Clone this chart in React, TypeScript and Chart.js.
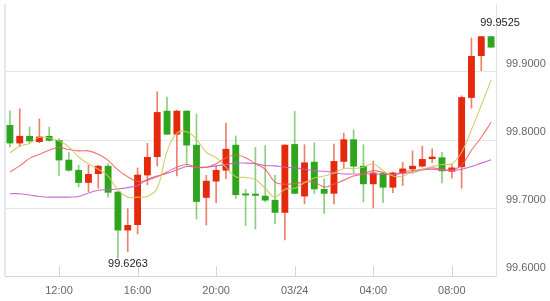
import React, { useEffect, useRef } from "react";
import { Chart, registerables } from "chart.js";

Chart.register(...registerables);

const TIMES = [
  "09:30", "10:00", "10:30", "11:00", "11:30", "12:00", "12:30", "13:00", "13:30", "14:00",
  "14:30", "15:00", "15:30", "16:00", "16:30", "17:00", "17:30", "18:00", "18:30", "19:00",
  "19:30", "20:00", "20:30", "21:00", "21:30", "22:00", "22:30", "23:00", "23:30", "03/24",
  "00:30", "01:00", "01:30", "02:00", "02:30", "03:00", "03:30", "04:00", "04:30", "05:00",
  "05:30", "06:00", "06:30", "07:00", "07:30", "08:00", "08:30", "09:00", "09:30", "10:00",
];

const X_TICKS = ["12:00", "16:00", "20:00", "03/24", "04:00", "08:00"];

const OPEN = [
  99.822, 99.795, 99.806, 99.797, 99.806, 99.8, 99.771, 99.756, 99.737, 99.75,
  99.762, 99.724, 99.667, 99.675, 99.748, 99.775, 99.843, 99.808, 99.843, 99.793,
  99.715, 99.739, 99.755, 99.793, 99.7213, 99.721, 99.718, 99.712, 99.693, 99.794,
  99.717, 99.768, 99.728, 99.721, 99.768, 99.801, 99.762, 99.735, 99.751, 99.73,
  99.751, 99.757, 99.761, 99.772, 99.7745, 99.7535, 99.76, 99.862, 99.9235, 99.9525,
];
const HIGH = [
  99.843, 99.846, 99.819, 99.831, 99.819, 99.802, 99.782, 99.763, 99.763, 99.763,
  99.765, 99.724, 99.699, 99.759, 99.795, 99.871, 99.863, 99.844, 99.843, 99.838,
  99.748, 99.762, 99.825, 99.806, 99.7275, 99.789, 99.792, 99.748, 99.793, 99.842,
  99.793, 99.796, 99.743, 99.794, 99.81, 99.815, 99.793, 99.769, 99.753, 99.753,
  99.767, 99.784, 99.791, 99.787, 99.782, 99.764, 99.865, 99.95, 99.9525, 99.9525,
];
const LOW = [
  99.79, 99.79, 99.796, 99.796, 99.798, 99.748, 99.754, 99.731, 99.724, 99.729,
  99.716, 99.6263, 99.636, 99.662, 99.734, 99.762, 99.808, 99.747, 99.763, 99.684,
  99.675, 99.708, 99.743, 99.714, 99.674, 99.669, 99.709, 99.677, 99.653, 99.721,
  99.706, 99.721, 99.692, 99.706, 99.758, 99.752, 99.709, 99.7, 99.708, 99.7225,
  99.733, 99.751, 99.76, 99.767, 99.737, 99.744, 99.729, 99.847, 99.902, 99.936,
];
const CLOSE = [
  99.795, 99.806, 99.798, 99.805, 99.799, 99.77, 99.755, 99.737, 99.75, 99.762,
  99.7225, 99.667, 99.675, 99.749, 99.775, 99.841, 99.808, 99.843, 99.792, 99.709,
  99.74, 99.756, 99.787, 99.719, 99.7185, 99.718, 99.711, 99.693, 99.793, 99.721,
  99.767, 99.7275, 99.721, 99.769, 99.801, 99.761, 99.735, 99.752, 99.73, 99.752,
  99.758, 99.762, 99.772, 99.7755, 99.754, 99.7595, 99.863, 99.9235, 99.9525, 99.936,
];

const MA_YELLOW = [
  99.781, 99.791, 99.795, 99.804, 99.803, 99.799, 99.79, 99.775, 99.765, 99.757,
  99.747, 99.7265, 99.716, 99.716, 99.717, 99.729, 99.783, 99.81, 99.812, 99.801,
  99.782, 99.774, 99.76, 99.746, 99.745, 99.742, 99.729, 99.716, 99.7275, 99.729,
  99.737, 99.744, 99.747, 99.751, 99.758, 99.758, 99.76, 99.765, 99.755, 99.747,
  99.747, 99.753, 99.757, 99.761, 99.764, 99.765, 99.782, 99.815, 99.851, 99.888,
];
const MA_RED = [
  99.753, 99.762, 99.773, 99.779, 99.785, 99.789, 99.786, 99.784, 99.784, 99.779,
  99.77, 99.756, 99.746, 99.739, 99.741, 99.746, 99.753, 99.76, 99.764, 99.76,
  99.76, 99.765, 99.774, 99.778, 99.774, 99.765, 99.757, 99.738, 99.735, 99.736,
  99.738, 99.738, 99.731, 99.735, 99.741, 99.747, 99.75, 99.755, 99.752, 99.749,
  99.753, 99.755, 99.757, 99.759, 99.757, 99.756, 99.763, 99.785, 99.804, 99.826,
];
const MA_PURPLE = [
  99.721, 99.721, 99.719, 99.717, 99.716, 99.716, 99.716, 99.717, 99.722, 99.726,
  99.727, 99.728, 99.73, 99.733, 99.742, 99.747, 99.751, 99.756, 99.761, 99.76,
  99.76, 99.762, 99.764, 99.766, 99.766, 99.765, 99.7625, 99.762, 99.76, 99.759,
  99.757, 99.755, 99.754, 99.752, 99.75, 99.75, 99.75, 99.75, 99.75, 99.749,
  99.751, 99.7525, 99.756, 99.757, 99.756, 99.755, 99.757, 99.761, 99.766, 99.771,
];

const Y_MIN = 99.6;
const Y_MAX = 100.0;
const Y_STEP = 0.1;

const RED = "#e4290c";
const GREEN = "#2ea51c";
const RED_WICK = "rgba(228,41,12,0.6)";
const GREEN_WICK = "rgba(46,165,28,0.55)";
const FONT = "'Liberation Sans', Arial, sans-serif";

const overlay = {
  id: "overlay",
  afterDraw(chart: any) {
    const { ctx, chartArea, scales } = chart;
    const xs = scales.x;
    const ys = scales.y;
    ctx.save();
    ctx.strokeStyle = "#e3e7f0";
    ctx.lineWidth = 2;
    ctx.beginPath();
    ctx.moveTo(chartArea.left, chartArea.top);
    ctx.lineTo(chartArea.left, chartArea.bottom);
    ctx.stroke();
    ctx.strokeStyle = "#ccd6eb";
    ctx.lineWidth = 1;
    ctx.beginPath();
    TIMES.forEach((t, i) => {
      if (X_TICKS.includes(t)) {
        const px = Math.round(xs.getPixelForValue(i)) + 0.5;
        ctx.moveTo(px, chartArea.bottom);
        ctx.lineTo(px, chartArea.bottom - 10);
      }
    });
    ctx.stroke();
    let maxI = 0;
    let minI = 0;
    HIGH.forEach((h, i) => { if (h >= HIGH[maxI]) maxI = i; });
    LOW.forEach((l, i) => { if (l < LOW[minI]) minI = i; });
    ctx.fillStyle = "#222";
    ctx.font = `11px ${FONT}`;
    ctx.textAlign = "center";
    ctx.textBaseline = "middle";
    ctx.fillText(HIGH[maxI].toFixed(4), xs.getPixelForValue(maxI) + 9, ys.getPixelForValue(HIGH[maxI]) - 13);
    ctx.fillText(LOW[minI].toFixed(4), xs.getPixelForValue(minI) + 10, ys.getPixelForValue(LOW[minI]) + 6);
    ctx.restore();
  },
};

export default function App() {
  const ref = useRef<HTMLCanvasElement>(null);
  useEffect(() => {
    if (!ref.current) return;
    const up = OPEN.map((o, i) => CLOSE[i] >= o);
    const chart = new Chart(ref.current, {
      type: "bar",
      data: {
        labels: TIMES,
        datasets: [
          {
            type: "line",
            data: MA_YELLOW,
            borderColor: "rgba(206,200,90,0.9)",
            borderWidth: 1.1,
            pointRadius: 0,
            tension: 0.4,
            order: 0,
          } as any,
          {
            type: "line",
            data: MA_RED,
            borderColor: "rgba(250,85,85,0.85)",
            borderWidth: 1.1,
            pointRadius: 0,
            tension: 0.4,
            order: 0,
          } as any,
          {
            type: "line",
            data: MA_PURPLE,
            borderColor: "rgba(195,95,200,0.9)",
            borderWidth: 1.1,
            pointRadius: 0,
            tension: 0.4,
            order: 0,
          } as any,
          {
            type: "bar",
            data: OPEN.map((o, i) => [o, CLOSE[i]]),
            backgroundColor: up.map((u) => (u ? RED : GREEN)),
            barPercentage: 0.7,
            categoryPercentage: 1,
            grouped: false,
            borderWidth: 0,
            minBarLength: 1.5,
            order: 1,
          } as any,
          {
            type: "bar",
            data: LOW.map((l, i) => [l, HIGH[i]]),
            backgroundColor: up.map((u) => (u ? RED_WICK : GREEN_WICK)),
            barThickness: 1,
            grouped: false,
            borderWidth: 0,
            order: 2,
          } as any,
        ],
      },
      options: {
        responsive: false,
        animation: false,
        layout: { padding: { left: 5, top: 4, right: 0, bottom: 0 } },
        plugins: { legend: { display: false }, tooltip: { enabled: false } },
        scales: {
          x: {
            type: "category",
            offset: true,
            grid: { display: false, drawTicks: false },
            border: { display: true, color: "#ccd6eb", width: 1 },
            ticks: {
              autoSkip: false,
              maxRotation: 0,
              padding: 8,
              color: "#666",
              font: { size: 11, family: FONT },
              callback: (_v: any, i: number) => (X_TICKS.includes(TIMES[i]) ? TIMES[i] : ""),
            },
            afterFit: (s: any) => {
              s.height = 25;
              s.paddingLeft = 0;
              s.paddingRight = 0;
            },
          },
          y: {
            position: "right",
            min: Y_MIN,
            max: Y_MAX,
            grid: {
              drawTicks: false,
              color: (c: any) => (c.tick && c.tick.value > Y_MAX - Y_STEP / 2 ? "rgba(0,0,0,0)" : "#e6e6e6"),
            },
            border: { display: true, color: "#dde1e8", width: 1 },
            ticks: {
              stepSize: Y_STEP,
              padding: 10,
              labelOffset: -8,
              color: "#666",
              font: { size: 11, family: FONT },
              callback: (v: any) => (Number(v) > Y_MAX - Y_STEP / 2 ? "" : Number(v).toFixed(4)),
            },
            afterFit: (s: any) => {
              s.width = 54;
              s.paddingTop = 0;
              s.paddingBottom = 0;
            },
          },
        },
      },
      plugins: [overlay],
    });
    return () => chart.destroy();
  }, []);
  return (
    <div style={{ position: "fixed", left: 0, top: 0, width: 550, height: 301, background: "#fff" }}>
      <canvas ref={ref} width={550} height={301} />
    </div>
  );
}
